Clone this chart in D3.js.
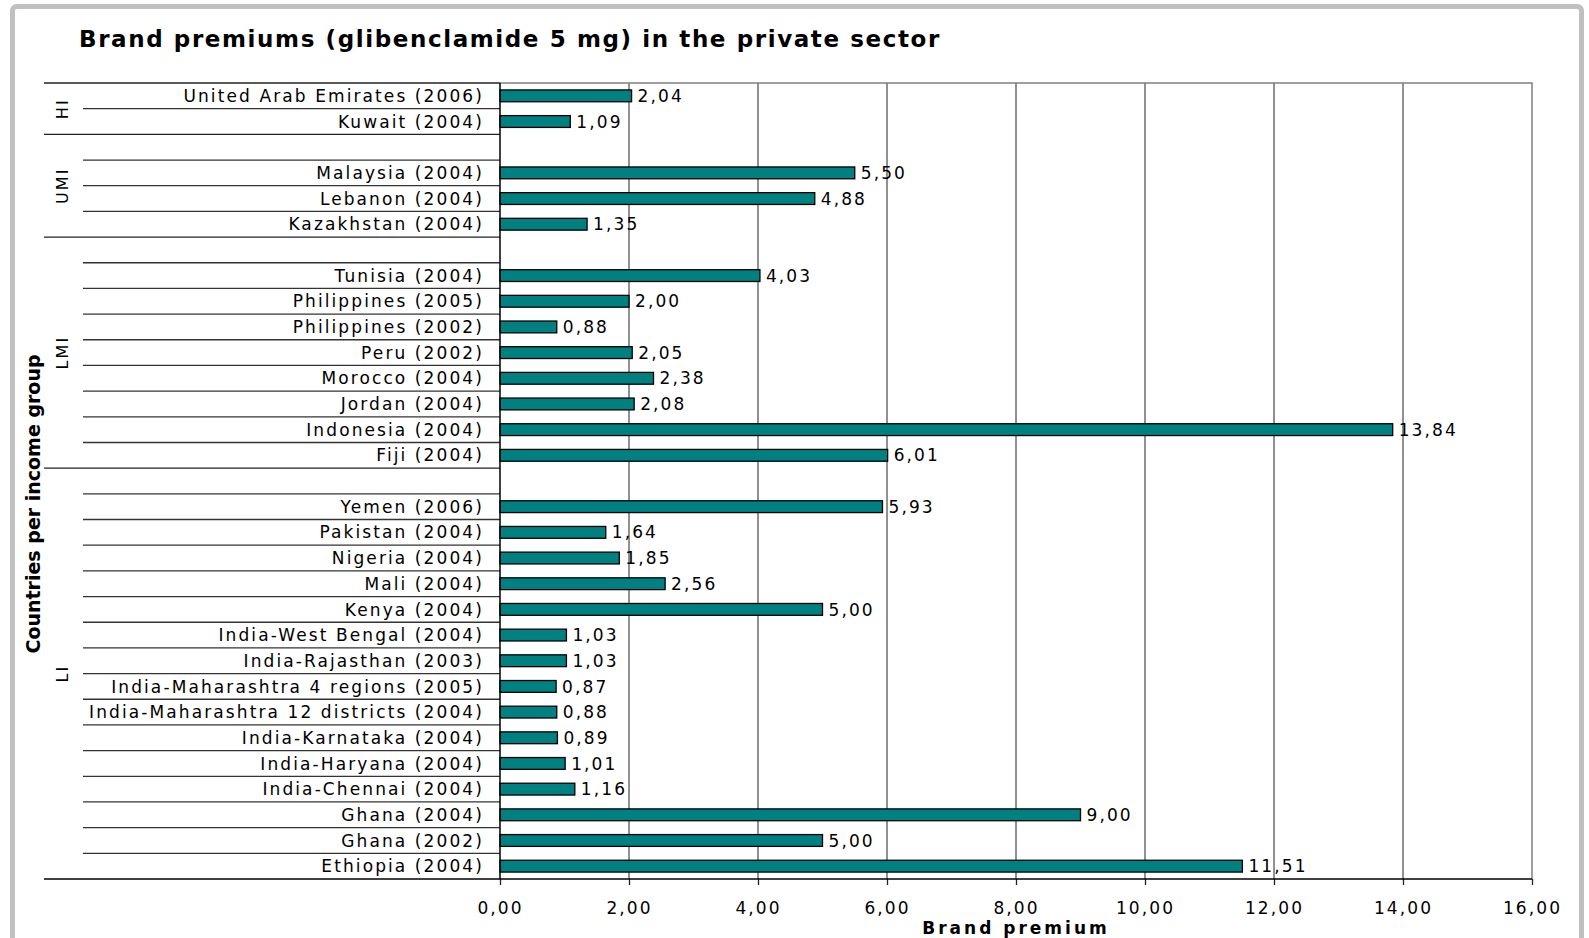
<!DOCTYPE html>
<html>
<head>
<meta charset="utf-8">
<script src="https://cdn.jsdelivr.net/npm/d3@7"></script>
<style>
  body { margin: 0; background: #fff; }
  svg { display: block; font-family: 'DejaVu Sans', Verdana, sans-serif; }
  .cat, .val, .tick text, .grp { letter-spacing: 2.1px; }
</style>
</head>
<body>
<div id="chart"></div>
<script>
// income groups, top to bottom; a '' entry is an empty spacer row
const groupNames = ['HI', 'UMI', 'LMI', 'LI'];

const hiCountries = ['United Arab Emirates (2006)', 'Kuwait (2004)'];
const hiValues = [2.04, 1.09];

const umiCountries = ['', 'Malaysia (2004)', 'Lebanon (2004)', 'Kazakhstan (2004)'];
const umiValues = [null, 5.50, 4.88, 1.35];

const lmiCountries = ['', 'Tunisia (2004)', 'Philippines (2005)', 'Philippines (2002)', 'Peru (2002)',
  'Morocco (2004)', 'Jordan (2004)', 'Indonesia (2004)', 'Fiji (2004)'];
const lmiValues = [null, 4.03, 2.00, 0.88, 2.05, 2.38, 2.08, 13.84, 6.01];

const liCountries = ['', 'Yemen (2006)', 'Pakistan (2004)', 'Nigeria (2004)', 'Mali (2004)', 'Kenya (2004)',
  'India-West Bengal (2004)', 'India-Rajasthan (2003)', 'India-Maharashtra 4 regions (2005)',
  'India-Maharashtra 12 districts (2004)', 'India-Karnataka (2004)', 'India-Haryana (2004)',
  'India-Chennai (2004)', 'Ghana (2004)', 'Ghana (2002)', 'Ethiopia (2004)'];
const liValues = [null, 5.93, 1.64, 1.85, 2.56, 5.00, 1.03, 1.03, 0.87, 0.88, 0.89, 1.01, 1.16, 9.00, 5.00, 11.51];

const xTicks = [0, 2, 4, 6, 8, 10, 12, 14, 16];

const width = 1589;
const height = 938;
const barColor = '#008080';

const locale = d3.formatLocale({ decimal: ',', thousands: '.', grouping: [3], currency: ['', ''] });
const fmt = locale.format('.2f');

// flatten into rows
const groupRows = [
  [hiCountries, hiValues],
  [umiCountries, umiValues],
  [lmiCountries, lmiValues],
  [liCountries, liValues]
];
const rows = [];
const groups = [];
groupRows.forEach(([cats, vals], gi) => {
  const start = rows.length;
  cats.forEach((c, i) => rows.push({ id: rows.length, group: groupNames[gi], label: c, value: vals[i] }));
  groups.push({ name: groupNames[gi], start: start, end: rows.length });
});

const svg = d3.select('#chart')
  .append('svg')
    .attr('width', width)
    .attr('height', height);

// outer frame
svg.append('rect')
  .attr('x', 12.5).attr('y', 6.5)
  .attr('width', 1569).attr('height', 960)
  .attr('rx', 4)
  .attr('fill', '#fff')
  .attr('stroke', '#c0c0c0')
  .attr('stroke-width', 5);

const plot = { left: 500, right: 1532, top: 83, bottom: 879 };

const xScale = d3.scaleLinear()
  .domain([0, 16])
  .range([plot.left, plot.right]);

const yScale = d3.scaleBand()
  .domain(rows.map(d => d.id))
  .range([plot.top, plot.bottom])
  .paddingInner(0.54)
  .paddingOuter(0.27);

const step = yScale.step();
const rowTop = i => plot.top + i * step;

// title
svg.append('text')
  .attr('x', 79).attr('y', 47)
  .attr('font-size', 23)
  .attr('font-weight', 'bold')
  .style('letter-spacing', '1.6px')
  .text('Brand premiums (glibenclamide 5 mg) in the private sector');

// grid lines
svg.append('g')
  .selectAll('line')
  .data(xTicks.filter(t => t > 0 && t < 16))
  .join('line')
    .attr('x1', d => xScale(d)).attr('x2', d => xScale(d))
    .attr('y1', plot.top).attr('y2', plot.bottom)
    .attr('stroke', '#222')
    .attr('stroke-width', 1);

// plot border top and right
svg.append('path')
  .attr('d', `M${plot.left},${plot.top}H${plot.right}V${plot.bottom}`)
  .attr('fill', 'none')
  .attr('stroke', '#808080')
  .attr('stroke-width', 1.5);

// category separators: short inside groups, long between groups
const shortSeps = [];
const longSeps = [0];
groups.forEach(g => {
  for (let i = g.start + 1; i < g.end; i++) shortSeps.push(i);
  longSeps.push(g.end);
});

svg.append('g')
  .selectAll('line')
  .data(shortSeps)
  .join('line')
    .attr('x1', 83).attr('x2', plot.left)
    .attr('y1', d => rowTop(d)).attr('y2', d => rowTop(d))
    .attr('stroke', '#333')
    .attr('stroke-width', 1.3);

svg.append('g')
  .selectAll('line')
  .data(longSeps.slice(0, -1))
  .join('line')
    .attr('x1', 44).attr('x2', plot.left)
    .attr('y1', d => rowTop(d)).attr('y2', d => rowTop(d))
    .attr('stroke', '#222')
    .attr('stroke-width', 1.3);

// bars
const bars = rows.filter(d => d.value != null);

svg.append('g')
  .selectAll('rect')
  .data(bars)
  .join('rect')
    .attr('x', xScale(0))
    .attr('y', d => yScale(d.id))
    .attr('width', d => xScale(d.value) - xScale(0))
    .attr('height', yScale.bandwidth())
    .attr('fill', barColor)
    .attr('stroke', '#000')
    .attr('stroke-width', 1.3);

// value labels
svg.append('g')
  .selectAll('text')
  .data(bars)
  .join('text')
    .attr('class', 'val')
    .attr('x', d => xScale(d.value) + 6)
    .attr('y', d => yScale(d.id) + yScale.bandwidth() / 2)
    .attr('dy', '0.36em')
    .attr('font-size', 17)
    .text(d => fmt(d.value));

// category labels
svg.append('g')
  .selectAll('text')
  .data(rows.filter(d => d.label))
  .join('text')
    .attr('class', 'cat')
    .attr('x', 484)
    .attr('y', d => yScale(d.id) + yScale.bandwidth() / 2)
    .attr('dy', '0.36em')
    .attr('text-anchor', 'end')
    .attr('font-size', 17)
    .text(d => d.label);

// group labels
svg.append('g')
  .selectAll('text')
  .data(groups)
  .join('text')
    .attr('class', 'grp')
    .attr('transform', d => `translate(62,${(rowTop(d.start) + rowTop(d.end)) / 2}) rotate(-90)`)
    .attr('dy', '0.36em')
    .attr('text-anchor', 'middle')
    .attr('font-size', 16)
    .text(d => d.name);

// y axis line
svg.append('line')
  .attr('x1', plot.left).attr('x2', plot.left)
  .attr('y1', plot.top).attr('y2', plot.bottom)
  .attr('stroke', '#000')
  .attr('stroke-width', 1.5);

// x axis
const xAxis = svg.append('g')
  .attr('transform', `translate(0,${plot.bottom})`)
  .call(d3.axisBottom(xScale).tickValues(xTicks).tickFormat(fmt).tickSize(6).tickPadding(17))
  .call(g => g.select('.domain').remove());

xAxis.selectAll('.tick line').attr('stroke', '#222').attr('stroke-width', 1.3);
xAxis.selectAll('.tick text')
  .attr('font-size', 17)
  .attr('font-family', 'DejaVu Sans, Verdana, sans-serif')
  .attr('fill', '#000');

svg.append('line')
  .attr('x1', 44).attr('x2', plot.right)
  .attr('y1', plot.bottom).attr('y2', plot.bottom)
  .attr('stroke', '#000')
  .attr('stroke-width', 1.3);

// axis titles
svg.append('text')
  .attr('x', (plot.left + plot.right) / 2)
  .attr('y', 934)
  .attr('text-anchor', 'middle')
  .attr('font-size', 17)
  .attr('font-weight', 'bold')
  .style('letter-spacing', '3px')
  .text('Brand premium');

svg.append('text')
  .attr('transform', `translate(33,504) rotate(-90)`)
  .attr('dy', '0.36em')
  .attr('text-anchor', 'middle')
  .attr('font-size', 19)
  .attr('font-weight', 'bold')
  .text('Countries per income group');
</script>
</body>
</html>
